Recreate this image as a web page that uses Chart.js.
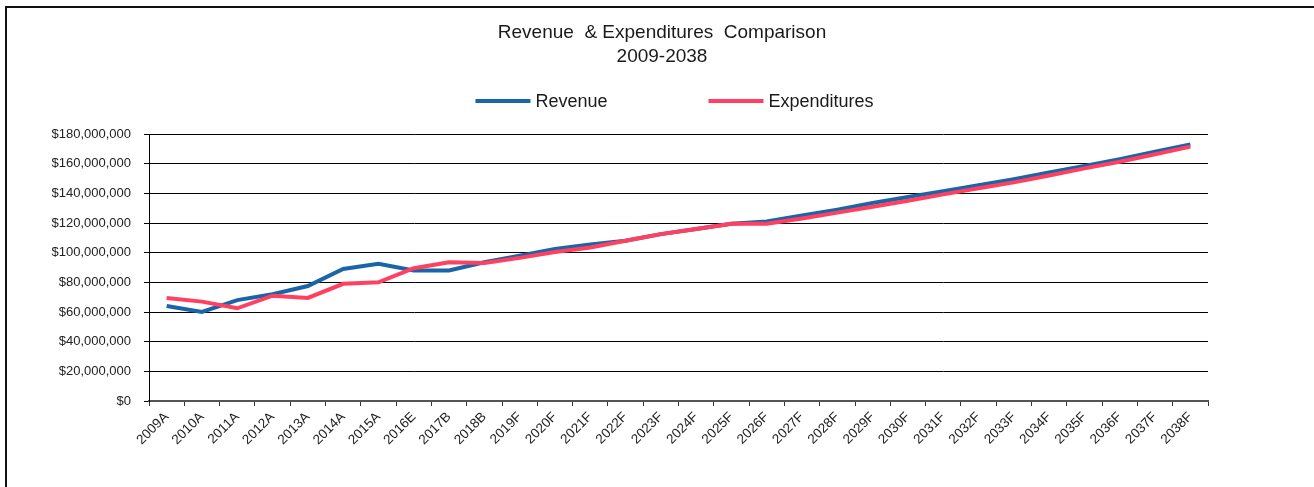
<!DOCTYPE html>
<html>
<head>
<meta charset="utf-8">
<script src="https://cdn.jsdelivr.net/npm/chart.js@4.4.1/dist/chart.umd.min.js"></script>
<style>
  html, body { margin: 0; padding: 0; background: #ffffff; }
  canvas { display: block; }
</style>
</head>
<body>
<canvas id="chart" width="1314" height="487"></canvas>
<script>
// Fiscal years: A = actual, E = estimate, B = budget, F = forecast
const categories = [
  '2009A', '2010A', '2011A', '2012A', '2013A', '2014A', '2015A', '2016E', '2017B', '2018B',
  '2019F', '2020F', '2021F', '2022F', '2023F', '2024F', '2025F', '2026F', '2027F', '2028F',
  '2029F', '2030F', '2031F', '2032F', '2033F', '2034F', '2035F', '2036F', '2037F', '2038F'
];

// Values in millions of dollars
const revenueMillions = [
  64, 60, 68, 72, 77.5, 89, 92.5, 88, 88, 93.5,
  98, 102.5, 105.5, 108, 112.5, 116, 119.5, 121, 125, 129,
  133.5, 137.5, 141.5, 145.5, 149.5, 154, 158.5, 163, 168, 173
];
const expenditureMillions = [
  69.5, 67, 62.5, 71, 69.5, 79, 80, 89.5, 93.5, 93,
  96.5, 100.5, 103.5, 108, 112.5, 116, 119.5, 119.5, 123, 127,
  131, 135, 139.3, 143.4, 147.4, 152, 156.8, 161.3, 166.3, 171.5
];

const seriesNames = ['Revenue', 'Expenditures'];
const titleLines = ['Revenue  & Expenditures  Comparison', '2009-2038'];

const FONT = '"Liberation Sans", Arial, Helvetica, sans-serif';
const BLUE = '#1a64a8';
const RED = '#ff4060';

const toDollars = arr => arr.map(v => v * 1000000);

// White page with the dark frame along the top and left edges
const framePlugin = {
  id: 'frame',
  beforeDraw(chart) {
    const ctx = chart.ctx;
    ctx.save();
    ctx.fillStyle = '#ffffff';
    ctx.fillRect(0, 0, chart.width, chart.height);
    ctx.strokeStyle = '#111111';
    ctx.lineWidth = 2;
    ctx.beginPath();
    ctx.moveTo(6, chart.height);
    ctx.lineTo(6, 7);
    ctx.lineTo(chart.width, 7);
    ctx.stroke();
    ctx.restore();
  }
};

// Legend with a line swatch for each series, laid out in one row
const lineLegendPlugin = {
  id: 'lineLegend',
  afterDraw(chart) {
    const ctx = chart.ctx;
    const items = chart.data.datasets
      .map(ds => ({ text: ds.label, color: ds.borderColor, idx: ds.legendIndex }))
      .sort((a, b) => a.idx - b.idx);
    const swatch = 55, gap = 5, spacing = 101, y = 101;
    ctx.save();
    ctx.font = '18px ' + FONT;
    ctx.textBaseline = 'middle';
    ctx.textAlign = 'left';
    const widths = items.map(it => ctx.measureText(it.text).width);
    const total = widths.reduce((s, w) => s + swatch + gap + w, 0) + spacing * (items.length - 1);
    const center = (chart.chartArea.left + chart.chartArea.right) / 2 - 4;
    let x = center - total / 2;
    items.forEach((it, i) => {
      ctx.fillStyle = it.color;
      ctx.fillRect(x, y - 2, swatch, 4);
      ctx.fillStyle = '#1a1a1a';
      ctx.fillText(it.text, x + swatch + gap, y + 1);
      x += swatch + gap + widths[i] + spacing;
    });
    ctx.restore();
  }
};

new Chart(document.getElementById('chart'), {
  type: 'line',
  data: {
    labels: categories,
    datasets: [
      {
        label: seriesNames[0],
        data: toDollars(revenueMillions),
        borderColor: BLUE,
        backgroundColor: BLUE,
        borderWidth: 4,
        pointRadius: 0,
        tension: 0,
        order: 1,
        legendIndex: 0
      },
      {
        label: seriesNames[1],
        data: toDollars(expenditureMillions),
        borderColor: RED,
        backgroundColor: RED,
        borderWidth: 4,
        pointRadius: 0,
        tension: 0,
        order: 0,
        legendIndex: 1
      }
    ]
  },
  options: {
    responsive: false,
    animation: false,
    layout: { padding: { left: 10, right: 0, top: 0, bottom: 0 } },
    plugins: {
      legend: { display: false },
      tooltip: { enabled: false },
      title: {
        display: true,
        text: titleLines,
        color: '#1a1a1a',
        font: { family: FONT, size: 19, weight: 'normal', lineHeight: 24 / 19 },
        padding: { top: 21, bottom: 65 }
      }
    },
    scales: {
      x: {
        type: 'category',
        offset: true,
        afterFit(scale) { scale.height = 86; },
        grid: {
          display: true,
          offset: true,
          drawOnChartArea: false,
          drawTicks: true,
          tickLength: 5,
          color: '#333333'
        },
        border: { display: true, color: '#555555', width: 2 },
        ticks: {
          autoSkip: false,
          minRotation: 45,
          maxRotation: 45,
          padding: 3,
          color: '#222222',
          font: { family: FONT, size: 13.5 }
        }
      },
      y: {
        min: 0,
        max: 180000000,
        afterFit(scale) { scale.width = 139; },
        grid: {
          color: '#000000',
          lineWidth: 1,
          drawTicks: true,
          tickLength: 5
        },
        border: { display: true, color: '#000000', width: 1 },
        ticks: {
          stepSize: 20000000,
          padding: 13,
          color: '#222222',
          font: { family: FONT, size: 13 },
          callback: v => '$' + Number(v).toLocaleString('en-US')
        }
      },
      // Empty right-hand margin beside the plot
      margin: {
        position: 'right',
        min: 0,
        max: 1,
        afterFit(scale) { scale.width = 106; },
        grid: { display: false },
        border: { display: false },
        ticks: { display: false }
      }
    }
  },
  plugins: [framePlugin, lineLegendPlugin]
});
</script>
</body>
</html>
